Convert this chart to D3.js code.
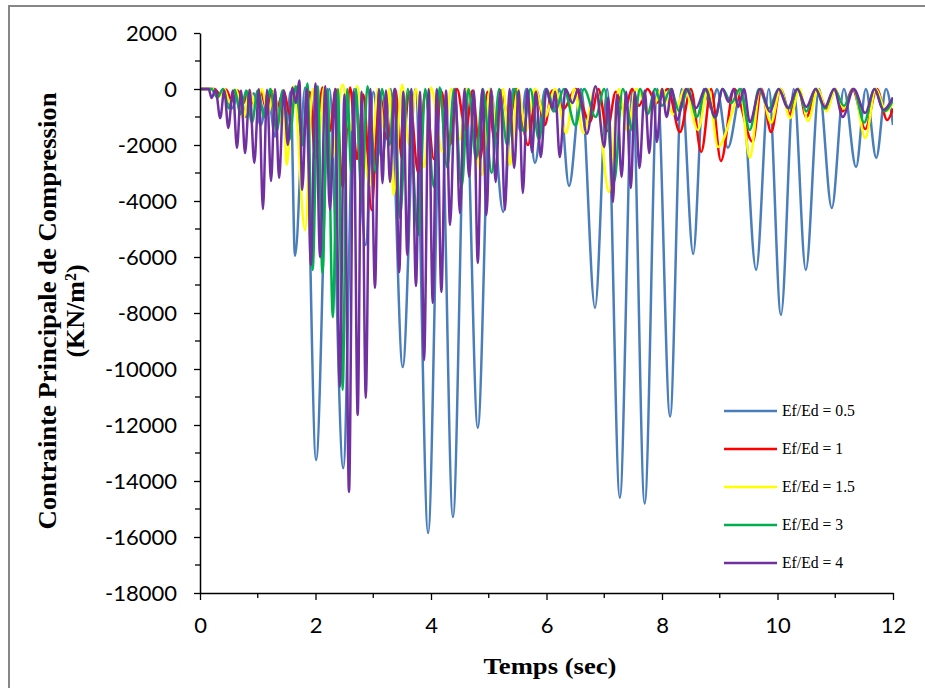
<!DOCTYPE html>
<html>
<head>
<meta charset="utf-8">
<script src="https://cdn.jsdelivr.net/npm/d3@7/dist/d3.min.js"></script>
<style>
  body { margin: 0; background: #fff; }
  svg { display: block; }
</style>
</head>
<body>
<svg id="chart" width="925" height="688"></svg>
<script>
// Series labels and colours (drawn in this order, last on top)
const seriesNames = ["Ef/Ed = 0.5", "Ef/Ed = 1", "Ef/Ed = 1.5", "Ef/Ed = 3", "Ef/Ed = 4"];
const seriesColors = ["#4a7ebb", "#ff0000", "#ffff00", "#00b050", "#7030a0"];

// Axis ticks
const xTickValues = [0, 2, 4, 6, 8, 10, 12];
const xMinorTicks = [1, 3, 5, 7, 9, 11];
const yTickValues = [2000, 0, -2000, -4000, -6000, -8000, -10000, -12000, -14000, -16000, -18000];
const yMinorTicks = [1000, -1000, -3000, -5000, -7000, -9000, -11000, -13000, -15000, -17000];

// Stress history: successive peaks and troughs [time (s), stress (kN/m²)]
const ratio05 = [
  [0,0],[0.2,0],[0.3,-250],[0.42,-50],[0.55,-700],[0.68,-100],[0.8,-1000],[0.93,-150],
  [1.05,-1300],[1.18,-150],[1.3,-1700],[1.4,-300],[1.5,-1200],[1.57,-100],[1.645,-5960],
  [1.82,50],[2.01,-13250],[2.24,0],[2.48,-13540],[2.67,0],[2.87,-5570],[3.0,-100],
  [3.15,-2500],[3.3,0],[3.51,-9930],[3.73,0],[3.95,-15860],[4.17,0],[4.38,-15290],
  [4.6,0],[4.81,-12100],[5.03,0],[5.25,-4390],[5.42,0],[5.55,-1500],[5.65,0],[5.8,-2640],
  [5.98,0],[6.12,-800],[6.22,0],[6.39,-3460],[6.6,0],[6.84,-7820],[7.05,0],[7.27,-14600],
  [7.49,0],[7.7,-14800],[7.92,0],[8.14,-11700],[8.34,0],[8.54,-5890],[8.72,0],[8.85,-700],
  [8.95,0],[9.14,-2100],[9.38,0],[9.63,-6460],[9.85,0],[10.06,-8070],[10.28,0],
  [10.49,-6460],[10.72,0],[10.94,-4250],[11.15,0],[11.36,-2790],[11.53,0],[11.71,-2460],
  [11.88,0],[12,-1290]
];
const ratio1 = [
  [0,0],[0.25,0],[0.35,-200],[0.45,-20],[0.55,-400],[0.65,-50],[0.75,-500],[0.85,-60],
  [0.95,-600],[1.05,-80],[1.15,-700],[1.25,-80],[1.35,-600],[1.45,-50],[1.55,-900],
  [1.65,50],[1.78,-1800],[1.9,-100],[2.0,-2500],[2.12,50],[2.25,-1500],[2.35,0],
  [2.47,-3500],[2.6,50],[2.72,-2500],[2.83,-200],[2.97,-4320],[3.1,-100],[3.25,-1800],
  [3.38,0],[3.5,-2500],[3.62,-100],[3.78,-3000],[3.9,-100],[4.05,-2500],[4.18,-100],
  [4.33,-2000],[4.45,0],[4.6,-1500],[4.72,-50],[4.85,-2500],[4.98,-100],[5.1,-1800],
  [5.22,-50],[5.35,-1200],[5.48,0],[5.68,-2000],[5.82,-50],[5.97,-1290],[6.1,-50],
  [6.3,-700],[6.5,0],[6.75,-1180],[6.9,0],[7.05,-1500],[7.2,-100],[7.35,-800],[7.48,0],
  [7.6,-600],[7.75,0],[7.9,-500],[8.1,0],[8.31,-1540],[8.5,0],[8.68,-2250],[8.85,0],
  [9.02,-2570],[9.25,0],[9.57,-1890],[9.72,0],[9.89,-1540],[10.05,0],[10.22,-900],
  [10.36,0],[10.5,-1000],[10.68,0],[10.85,-700],[11.0,0],[11.13,-800],[11.3,0],
  [11.52,-1430],[11.72,0],[11.9,-1110],[12,-700]
];
const ratio15 = [
  [0,0],[0.22,0],[0.32,-300],[0.42,0],[0.52,-500],[0.62,-30],[0.75,-1040],[0.86,-50],
  [0.97,-700],[1.07,0],[1.18,-900],[1.28,-50],[1.38,-1200],[1.44,-100],[1.5,-2710],
  [1.62,100],[1.82,-5040],[1.95,0],[2.05,-1800],[2.15,50],[2.28,-2500],[2.47,150],
  [2.6,-1500],[2.72,100],[2.94,-3430],[3.08,0],[3.2,-1500],[3.28,0],[3.35,-3790],
  [3.5,150],[3.62,-2000],[3.74,0],[3.88,-2800],[4.0,50],[4.2,-2250],[4.35,0],
  [4.5,-1800],[4.62,0],[4.88,-3070],[5.02,0],[5.15,-1500],[5.25,0],[5.37,-2710],
  [5.5,0],[5.65,-1500],[5.8,0],[5.97,-1000],[6.15,0],[6.34,-1570],[6.48,0],[6.64,-1570],
  [6.85,50],[7.08,-3680],[7.25,0],[7.4,-1500],[7.55,0],[7.8,-820],[8.0,0],[8.2,-900],
  [8.4,0],[8.62,-1460],[8.8,0],[8.97,-2070],[9.24,-680],[9.35,0],[9.52,-2460],[9.7,0],
  [9.89,-1200],[10.05,0],[10.22,-1040],[10.38,0],[10.53,-1140],[10.7,0],[10.85,-800],
  [11.0,0],[11.15,-700],[11.32,0],[11.52,-1750],[11.7,0],[11.88,-800],[12,-500]
];
const ratio3 = [
  [0,0],[0.2,0],[0.3,-300],[0.4,0],[0.5,-700],[0.6,-30],[0.7,-900],[0.8,-50],
  [0.9,-1200],[1.0,-50],[1.12,-1000],[1.22,0],[1.33,-1500],[1.43,-50],[1.55,-1800],
  [1.66,100],[1.78,-2000],[1.86,200],[1.95,-6460],[2.04,100],[2.12,-6570],[2.21,0],
  [2.3,-8140],[2.39,0],[2.47,-10750],[2.55,0],[2.62,-3000],[2.7,0],[2.8,-4000],
  [2.9,100],[3.05,-3000],[3.15,0],[3.28,-2000],[3.37,0],[3.46,-4600],[3.6,0],
  [3.78,-5210],[3.9,0],[4.05,-3500],[4.15,50],[4.28,-2800],[4.4,0],[4.53,-3500],
  [4.65,0],[4.78,-2500],[4.9,0],[5.05,-3000],[5.18,0],[5.32,-2000],[5.45,0],
  [5.6,-1500],[5.72,0],[5.87,-1800],[6.0,0],[6.15,-800],[6.3,0],[6.5,-1300],[6.65,0],
  [6.85,-1000],[7.0,0],[7.17,-3320],[7.32,0],[7.5,-1500],[7.62,0],[7.75,-900],[7.88,0],
  [8.0,-600],[8.15,0],[8.3,-800],[8.45,0],[8.6,-1000],[8.76,0],[8.92,-1040],[9.05,0],
  [9.2,-500],[9.35,0],[9.52,-1460],[9.68,0],[9.85,-700],[10.02,0],[10.2,-700],
  [10.35,0],[10.5,-800],[10.66,0],[10.82,-700],[10.98,0],[11.15,-600],[11.32,0],
  [11.5,-1200],[11.68,0],[11.85,-800],[12,-400]
];
const ratio4 = [
  [0,0],[0.15,0],[0.2,-320],[0.27,-30],[0.35,-1040],[0.42,-50],[0.49,-1390],[0.57,-50],
  [0.64,-2100],[0.71,-50],[0.78,-2290],[0.86,-30],[0.94,-2640],[1.02,0],[1.09,-4290],
  [1.16,-30],[1.23,-3290],[1.3,0],[1.37,-3180],[1.45,-50],[1.52,-2000],[1.6,50],
  [1.66,-500],[1.72,300],[1.77,-3600],[1.85,0],[1.92,-6290],[2.0,200],[2.08,-6000],
  [2.17,100],[2.25,-4320],[2.34,0],[2.42,-10640],[2.5,-200],[2.58,-14390],[2.66,-100],
  [2.73,-11640],[2.8,-100],[2.87,-11040],[2.95,0],[3.03,-7100],[3.1,0],[3.16,-3360],
  [3.22,-50],[3.29,-3320],[3.37,0],[3.45,-6540],[3.52,-100],[3.59,-5930],[3.66,0],
  [3.74,-7040],[3.81,-100],[3.88,-9680],[3.96,0],[4.03,-7640],[4.1,0],[4.18,-7250],
  [4.26,-50],[4.33,-4860],[4.42,0],[4.5,-4430],[4.58,0],[4.66,-3140],[4.74,-50],
  [4.81,-6210],[4.89,0],[4.96,-4500],[5.04,0],[5.12,-3320],[5.2,-50],[5.28,-4320],
  [5.36,0],[5.44,-2820],[5.52,-50],[5.59,-3710],[5.67,0],[5.75,-2250],[5.82,-100],
  [5.9,-2430],[6.0,0],[6.1,-700],[6.15,-100],[6.23,-2430],[6.33,0],[6.45,-500],
  [6.55,0],[6.7,-1600],[6.85,100],[7.0,-2070],[7.07,-300],[7.15,-4040],[7.22,-200],
  [7.3,-3140],[7.38,-100],[7.46,-3540],[7.53,-100],[7.61,-2820],[7.7,-50],[7.78,-2290],
  [7.85,-100],[7.91,-1890],[8.0,0],[8.08,-1000],[8.17,0],[8.26,-1110],[8.42,0],
  [8.59,-680],[8.75,0],[8.92,-1000],[9.05,0],[9.15,-460],[9.24,0],[9.32,-640],[9.42,0],
  [9.52,-1180],[9.7,0],[9.87,-820],[10.02,0],[10.18,-680],[10.34,0],[10.5,-640],
  [10.66,0],[10.82,-640],[10.98,0],[11.13,-1000],[11.32,0],[11.52,-860],[11.68,0],
  [11.83,-750],[12,-300]
];
const seriesData = [ratio05, ratio1, ratio15, ratio3, ratio4];

const svg = d3.select("#chart");

// outer frame of the chart area
svg.append("rect")
  .attr("x", 9).attr("y", 6).attr("width", 1000).attr("height", 1000)
  .attr("fill", "#fff").attr("stroke", "#878787").attr("stroke-width", 2);

const x = d3.scaleLinear().domain([0, 12]).range([200, 893]);
const y = d3.scaleLinear().domain([-18000, 2000]).range([593, 33]);

// data lines, clipped to the plot area
svg.append("clipPath").attr("id", "plotClip")
  .append("rect").attr("x", 200).attr("y", 20).attr("width", 693).attr("height", 573);

const line = d3.line()
  .x(d => x(d[0]))
  .y(d => y(d[1]))
  .curve(d3.curveMonotoneX);

const lines = svg.append("g").attr("clip-path", "url(#plotClip)");
seriesData.forEach((data, i) => {
  lines.append("path")
    .datum(data)
    .attr("d", line)
    .attr("fill", "none")
    .attr("stroke", seriesColors[i])
    .attr("stroke-width", 2.5)
    .attr("stroke-linejoin", "round");
});

const tickFont = "Lato, 'Open Sans', sans-serif";
const plainNumber = d => String(d);

// y axis
const yAxis = d3.axisLeft(y)
  .tickValues(yTickValues)
  .tickSizeInner(6).tickSizeOuter(0)
  .tickPadding(17)
  .tickFormat(plainNumber);
const gy = svg.append("g").attr("transform", "translate(200,0)").call(yAxis);
gy.selectAll(".tick line").attr("stroke", "#000").attr("stroke-width", 1.3);
gy.select(".domain").attr("stroke", "#000").attr("stroke-width", 1.5);
gy.selectAll(".tick text")
  .attr("font-family", tickFont).attr("font-size", 22).attr("fill", "#000");
gy.selectAll(".minor").data(yMinorTicks).enter().append("line")
  .attr("class", "minor")
  .attr("x1", -5).attr("x2", 0)
  .attr("y1", d => y(d)).attr("y2", d => y(d))
  .attr("stroke", "#000").attr("stroke-width", 1.3);

// x axis
const xAxis = d3.axisBottom(x)
  .tickValues(xTickValues)
  .tickSizeInner(7).tickSizeOuter(0)
  .tickPadding(17)
  .tickFormat(plainNumber);
const gx = svg.append("g").attr("transform", "translate(0,593)").call(xAxis);
gx.selectAll(".tick line").attr("stroke", "#000").attr("stroke-width", 1.3);
gx.select(".domain").attr("stroke", "#000").attr("stroke-width", 1.5);
gx.selectAll(".tick text")
  .attr("font-family", tickFont).attr("font-size", 22).attr("fill", "#000");
gx.selectAll(".minor").data(xMinorTicks).enter().append("line")
  .attr("class", "minor")
  .attr("x1", d => x(d)).attr("x2", d => x(d))
  .attr("y1", 0).attr("y2", 5)
  .attr("stroke", "#000").attr("stroke-width", 1.3);

// axis titles
svg.append("text")
  .attr("x", 550).attr("y", 674)
  .attr("text-anchor", "middle")
  .attr("font-family", "'Liberation Serif', 'Times New Roman', serif")
  .attr("font-weight", "bold").attr("font-size", 24)
  .attr("textLength", 133).attr("lengthAdjust", "spacingAndGlyphs")
  .text("Temps (sec)");

const yTitle = svg.append("text")
  .attr("transform", "translate(56,311) rotate(-90)")
  .attr("text-anchor", "middle")
  .attr("font-family", "'Liberation Serif', 'Times New Roman', serif")
  .attr("font-weight", "bold").attr("font-size", 26);
yTitle.append("tspan").attr("x", 0).attr("y", 0)
  .attr("textLength", 437).attr("lengthAdjust", "spacingAndGlyphs")
  .text("Contrainte Principale de Compression");
const unit = yTitle.append("tspan").attr("x", 0).attr("y", 28);
unit.append("tspan").text("(KN/m");
unit.append("tspan").attr("baseline-shift", "super").attr("font-size", 16).text("2");
unit.append("tspan").text(")");

// legend
const legend = svg.append("g");
seriesNames.forEach((name, i) => {
  const ly = 411 + i * 38;
  legend.append("line")
    .attr("x1", 724).attr("x2", 777).attr("y1", ly).attr("y2", ly)
    .attr("stroke", seriesColors[i]).attr("stroke-width", 2.5);
  legend.append("text")
    .attr("x", 782).attr("y", ly)
    .attr("dy", "0.35em")
    .attr("font-family", "'Liberation Serif', 'Times New Roman', serif")
    .attr("font-size", 15.7)
    .text(name);
});
</script>
</body>
</html>
